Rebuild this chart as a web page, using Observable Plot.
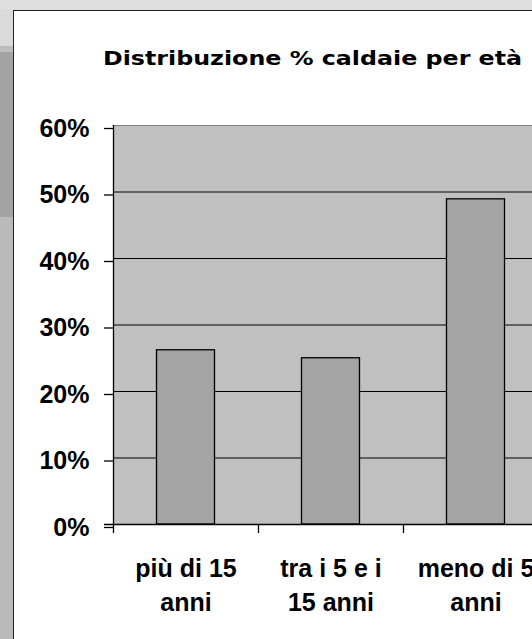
<!DOCTYPE html>
<html>
<head>
<meta charset="utf-8">
<script src="https://cdn.jsdelivr.net/npm/d3@7"></script>
<script src="https://cdn.jsdelivr.net/npm/@observablehq/plot@0.6"></script>
<style>
  html, body { margin: 0; padding: 0; width: 532px; height: 639px; overflow: hidden; background: #dedede; }
  #strip1 { position: absolute; left: 0; top: 10px; width: 13px; height: 36px; background: #dadada; }
  #strip2 { position: absolute; left: 0; top: 46px; width: 13px; height: 6px; background: #bdbdbd; }
  #strip3 { position: absolute; left: 0; top: 52px; width: 13px; height: 165px; background: #a3a3a3; }
  #strip4 { position: absolute; left: 0; top: 217px; width: 13px; height: 422px; background: #bababa; }
  #box { position: absolute; left: 13px; top: 10px; width: 600px; height: 700px; background: #fff; border: 1.5px solid #222; box-sizing: border-box; }
  #title { position: absolute; left: 103px; top: 47px; font-family: "DejaVu Sans", sans-serif; font-weight: bold; font-size: 19px; color: #000; white-space: nowrap; transform: scaleX(1.25); transform-origin: left top; }
  #chart { position: absolute; left: 0; top: 0; }
</style>
</head>
<body>
<div id="strip1"></div><div id="strip2"></div><div id="strip3"></div><div id="strip4"></div>
<div id="box"></div>
<div id="title">Distribuzione % caldaie per età</div>
<div id="chart"></div>
<script>
const categories = ["più di 15\nanni", "tra i 5 e i\n15 anni", "meno di 5\nanni"];
const values = [0.262, 0.250, 0.489];
const yTicks = [0, 0.1, 0.2, 0.3, 0.4, 0.5, 0.6];

const data = categories.map((c, i) => ({cat: c, value: values[i]}));

const W = 548, ML = 113, MR = 0;
const band = (W - ML - MR) / categories.length;
const barInset = (band - 58) / 2;

const plot = Plot.plot({
  width: W,
  height: 639,
  marginLeft: ML,
  marginRight: MR,
  marginTop: 125,
  marginBottom: 115,
  style: {
    background: "transparent",
    maxWidth: "none",
    fontFamily: "'Liberation Sans', Arial, sans-serif",
    fontSize: "25px",
    fontWeight: "bold",
    color: "#000",
    overflow: "visible"
  },
  x: {domain: categories, padding: 0, axis: null, label: null},
  y: {domain: [0, 0.6], axis: null, label: null},
  marks: [
    Plot.frame({fill: "#c0c0c0", stroke: null}),
    Plot.ruleY(yTicks.filter(d => d > 0 && d < 0.6), {stroke: "#000", strokeWidth: 1}),
    Plot.ruleY([0.6], {stroke: "#808080", strokeWidth: 1.2}),
    Plot.barY(data, {x: "cat", y: "value", fill: "#a4a4a4", stroke: "#000", strokeWidth: 1.3, insetLeft: barInset, insetRight: barInset}),
    Plot.ruleY([0], {stroke: "#000", strokeWidth: 1.3, insetLeft: -9}),
    Plot.ruleX([categories[0]], {x: d => d, dx: -band / 2, stroke: "#000", strokeWidth: 1.3, y1: 0, y2: 0.6}),
    Plot.axisY({ticks: yTicks, tickFormat: d3.format(".0%"), tickSize: 9, tickPadding: 15, dy: 3, stroke: "#000", strokeWidth: 1.3, fill: "#000", label: null}),
    Plot.axisX({tickSize: 9, tickFormat: () => "", dx: -band / 2, stroke: "#000", strokeWidth: 1.3, label: null}),
    Plot.axisX({tickSize: 0, tickPadding: 28, lineHeight: 1.36, fill: "#000", label: null})
  ]
});
document.getElementById("chart").appendChild(plot);
</script>
</body>
</html>
